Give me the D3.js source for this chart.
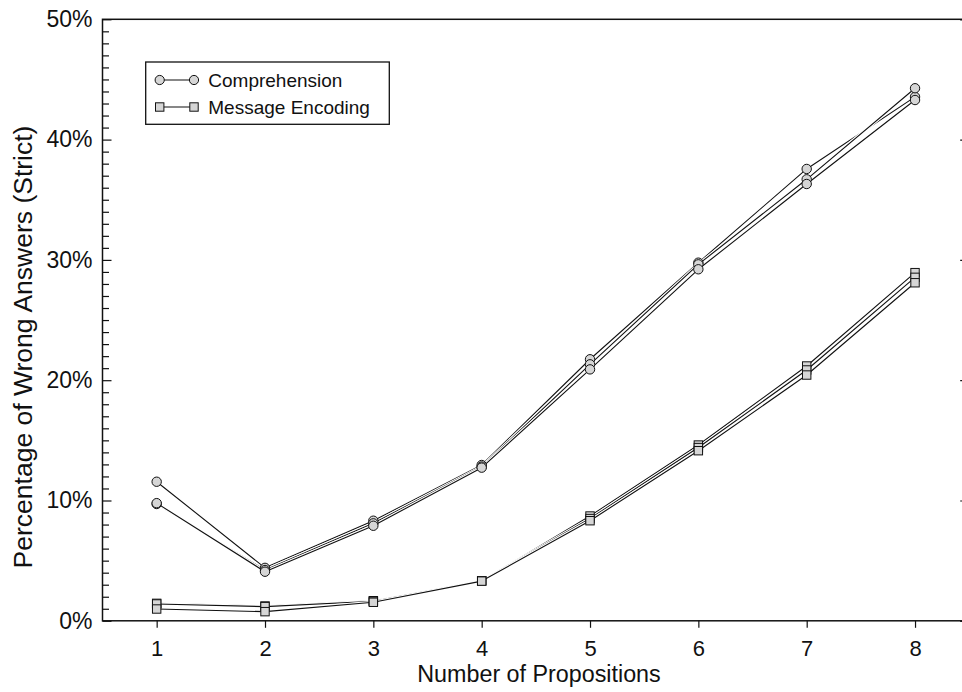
<!DOCTYPE html>
<html><head><meta charset="utf-8">
<script src="https://cdnjs.cloudflare.com/ajax/libs/d3/7.8.5/d3.min.js"></script>
<style>
body{margin:0;background:#fff}
svg{display:block}
text{font-family:"Liberation Sans",Arial,Helvetica,sans-serif;fill:#111}
</style>
</head><body><svg id="c" width="962" height="692"></svg>
<script>
// ---- data ----
const propositions = [1, 2, 3, 4, 5, 6, 7, 8];
const comprehension1 = [11.56, 4.40, 8.32, 12.95, 21.74, 29.77, 37.56, 43.55];
const comprehension2 = [9.71, 4.22, 8.10, 12.82, 21.32, 29.63, 36.70, 44.27];
const comprehension3 = [9.78, 4.08, 7.90, 12.73, 20.90, 29.22, 36.31, 43.29];
const encoding1 = [1.45, 1.23, 1.67, 3.33, 8.71, 14.61, 21.18, 28.94];
const encoding2 = [1.40, 1.18, 1.62, 3.33, 8.50, 14.40, 20.85, 28.55];
const encoding3 = [0.98, 0.76, 1.54, 3.30, 8.32, 14.14, 20.43, 28.10];
const yTicks = [0, 10, 20, 30, 40, 50];
const legendLabels = ["Comprehension", "Message Encoding"];
const xTitle = "Number of Propositions";
const yTitle = "Percentage of Wrong Answers (Strict)";

// ---- layout ----
const svg = d3.select("#c");
const L = 102.5, R = 969.2, T = 19.3, B = 620.8;
const x = d3.scaleLinear().domain([0.5, 8.5]).range([L, R]);
const y = d3.scaleLinear().domain([0, 50]).range([B, T]);
const ink = "#111";

// frame
svg.append("rect").attr("x", L).attr("y", T).attr("width", R - L).attr("height", B - T)
  .attr("fill", "none").attr("stroke", ink).attr("stroke-width", 1.5);

// left axis: minor ticks (every 1%) inward
const minor = d3.range(0, 51, 1).filter(v => v % 10 !== 0);
const gMinor = svg.append("g").attr("transform", `translate(${L},0)`)
  .call(d3.axisLeft(y).tickValues(minor).tickSize(-6.5).tickFormat(""));
gMinor.select(".domain").remove();
gMinor.selectAll("line").attr("stroke", ink).attr("stroke-width", 1.2);

const gLeft = svg.append("g").attr("transform", `translate(${L},0)`)
  .call(d3.axisLeft(y).tickValues(yTicks).tickSizeInner(-9).tickSizeOuter(0).tickPadding(10).tickFormat(d => d + "%"));
gLeft.select(".domain").remove();
gLeft.selectAll("line").attr("stroke", ink).attr("stroke-width", 1.2);
gLeft.selectAll("text").attr("font-size", 23).attr("fill", ink)
  .attr("font-family", '"Liberation Sans",Arial,sans-serif');

// right axis ticks inward
const gRight = svg.append("g").attr("transform", `translate(${R},0)`)
  .call(d3.axisRight(y).tickValues(yTicks).tickSizeInner(-9).tickSizeOuter(0).tickFormat(""));
gRight.select(".domain").remove();
gRight.selectAll("line").attr("stroke", ink).attr("stroke-width", 1.2);

// bottom axis, ticks outward
const gBottom = svg.append("g").attr("transform", `translate(0,${B})`)
  .call(d3.axisBottom(x).tickValues(propositions).tickSizeInner(7).tickSizeOuter(0).tickPadding(13).tickFormat(d3.format("d")));
gBottom.select(".domain").remove();
gBottom.selectAll("line").attr("stroke", ink).attr("stroke-width", 1.2);
gBottom.selectAll("text").attr("font-size", 22).attr("fill", ink)
  .attr("font-family", '"Liberation Sans",Arial,sans-serif');

// titles
svg.append("text").attr("x", 539).attr("y", 682).attr("text-anchor", "middle")
  .attr("font-size", 23.3).text(xTitle);
svg.append("text").attr("transform", `translate(32,347) rotate(-90)`).attr("text-anchor", "middle")
  .attr("font-size", 26.5).text(yTitle);

// ---- series ----
const fillGray = "#d6d6d6";
const line = d3.line().x((d, i) => x(propositions[i])).y(d => y(d));
const compSeries = [comprehension1, comprehension2, comprehension3];
const encSeries = [encoding1, encoding2, encoding3];
const allSeries = [...encSeries, ...compSeries];

const gLines = svg.append("g");
allSeries.forEach(s => {
  gLines.append("path").attr("d", line(s)).attr("fill", "none")
    .attr("stroke", "#fff").attr("stroke-width", 3.2).attr("stroke-linejoin", "round");
  gLines.append("path").attr("d", line(s)).attr("fill", "none")
    .attr("stroke", ink).attr("stroke-width", 1.1).attr("stroke-linejoin", "round");
});

const gMarks = svg.append("g");
encSeries.forEach(s => {
  gMarks.selectAll(null).data(s).join("rect")
    .attr("x", (d, i) => x(propositions[i]) - 4.2).attr("y", d => y(d) - 4.2)
    .attr("width", 8.4).attr("height", 8.4)
    .attr("fill", fillGray).attr("stroke", ink).attr("stroke-width", 1);
});
compSeries.forEach(s => {
  gMarks.selectAll(null).data(s).join("circle")
    .attr("cx", (d, i) => x(propositions[i])).attr("cy", d => y(d)).attr("r", 4.7)
    .attr("fill", fillGray).attr("stroke", ink).attr("stroke-width", 1);
});

// ---- legend ----
const lg = svg.append("g");
lg.append("rect").attr("x", 145.7).attr("y", 62).attr("width", 243.6).attr("height", 62.3)
  .attr("fill", "#fff").attr("stroke", ink).attr("stroke-width", 1.3);
const rows = [80, 107];
legendLabels.forEach((lab, k) => {
  const cy = rows[k];
  lg.append("line").attr("x1", 159.7).attr("x2", 194).attr("y1", cy).attr("y2", cy)
    .attr("stroke", ink).attr("stroke-width", 1.1);
  [159.7, 194].forEach(cx => {
    if (k === 0) {
      lg.append("circle").attr("cx", cx).attr("cy", cy).attr("r", 4.6)
        .attr("fill", fillGray).attr("stroke", ink).attr("stroke-width", 1);
    } else {
      lg.append("rect").attr("x", cx - 4.2).attr("y", cy - 4.2).attr("width", 8.4).attr("height", 8.4)
        .attr("fill", fillGray).attr("stroke", ink).attr("stroke-width", 1);
    }
  });
  lg.append("text").attr("x", 208.3).attr("y", cy).attr("dy", "0.36em")
    .attr("font-size", 19).text(lab);
});
</script>
</body></html>
